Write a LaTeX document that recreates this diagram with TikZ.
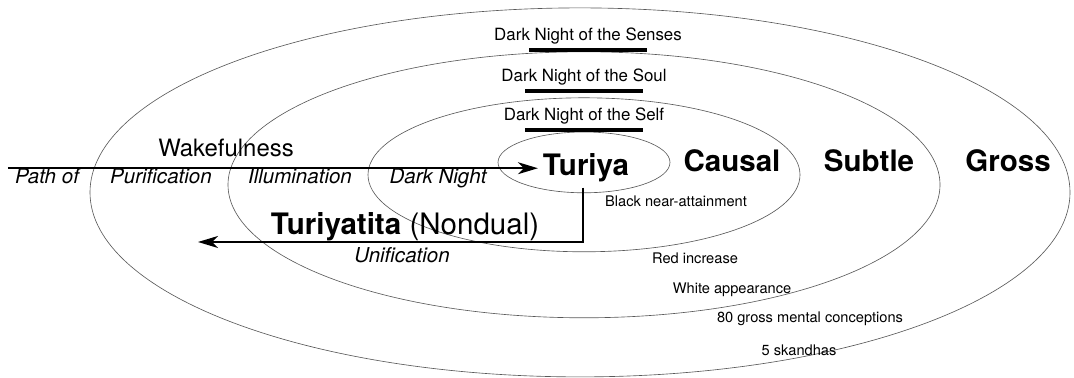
\documentclass[tikz,border=0pt]{standalone}
\usepackage{fontspec}
\setmainfont{TeX Gyre Heros}
\usetikzlibrary{arrows.meta,positioning,shapes.geometric}

\begin{document}
\begin{tikzpicture}[
		ring/.style={ellipse, draw=black!65, line width=0.45pt, inner sep=0pt},
		plane/.style={anchor=base, font=\bfseries\fontsize{21}{24}\selectfont},
		stage/.style={anchor=base, font=\itshape\fontsize{14.6}{17}\selectfont},
		night/.style={anchor=base, inner sep=0pt, font=\fontsize{12}{14}\selectfont},
		bar/.style={fill=black, inner sep=0pt, minimum width=2.95cm, minimum height=2.2pt},
		sign/.style={anchor=base, font=\fontsize{10.4}{12}\selectfont},
		flow/.style={line width=1.1pt, -{Stealth[length=0.5cm, width=0.3cm, inset=0.15cm]}}
	]
		\useasboundingbox (0,0) rectangle (26.85,9.45);
		
		\node[ring, minimum width=24.5cm, minimum height=9.225cm] (grossring) at (14.5,4.64) {};
		\node[ring, minimum width=17.8cm, minimum height=6.65cm] (subtlering) at (14.6,4.83) {};
		\node[ring, minimum width=10.8cm, minimum height=3.85cm] (causalring) at (14.6,5.08) {};
		\node[ring, minimum width=4.3cm, minimum height=1.52cm] (turiyaring) at (14.6,5.39) {};
		
		\node[night] (senses) at (14.7,8.425) {Dark Night of the Senses};
		\node[night] (soul) at (14.6,7.4) {Dark Night of the Soul};
		\node[night] (self) at (14.6,6.425) {Dark Night of the Self};
		\node[bar] (sensesbar) [below=0.08cm of senses] {};
		\node[bar] (soulbar) [below=0.08cm of soul] {};
		\node[bar] (selfbar) [below=0.08cm of self] {};
		
		\node[plane, inner sep=0.12cm] (turiya) at (14.65,5.05) {Turiya};
		\node[plane] (causal) at (18.3,5.15) {Causal};
		\node[plane] (subtle) at (21.725,5.15) {Subtle};
		\node[plane] (gross) at (25.2,5.15) {Gross};
		
		\node[anchor=base, font=\fontsize{17}{20}\selectfont] (wake) at (5.65,5.525) {Wakefulness};
		\node[stage] (pathof) at (1.175,4.85) {Path of};
		\node[stage] (purif) at (4.025,4.85) {Purification};
		\node[stage] (illum) at (7.5,4.85) {Illumination};
		\node[stage] (darknight) at (10.95,4.85) {Dark Night};
		
		\coordinate (start) at (0.2,5.375);
		\coordinate (back) at (4.95,3.4);
		\draw[flow] (turiya.west -| start) -- (turiya.west);
		\draw[flow] ([xshift=-0.075cm]turiya.south) |- (back);
		
		\node[anchor=base, font=\fontsize{21}{24}\selectfont] (nondual) at (10.125,3.575) {\textbf{Turiyatita} (Nondual)};
		\node[stage] (unif) at (10.05,2.875) {Unification};
		
		\node[sign] (black) at (16.9,4.275) {Black near-attainment};
		\node[sign] (red) at (17.375,2.85) {Red increase};
		\node[sign] (white) at (18.3,2.1) {White appearance};
		\node[sign] (eighty) at (20.25,1.375) {80 gross mental conceptions};
		\node[sign] (skandhas) at (19.975,0.55) {5 skandhas};
	\end{tikzpicture}
\end{document}
